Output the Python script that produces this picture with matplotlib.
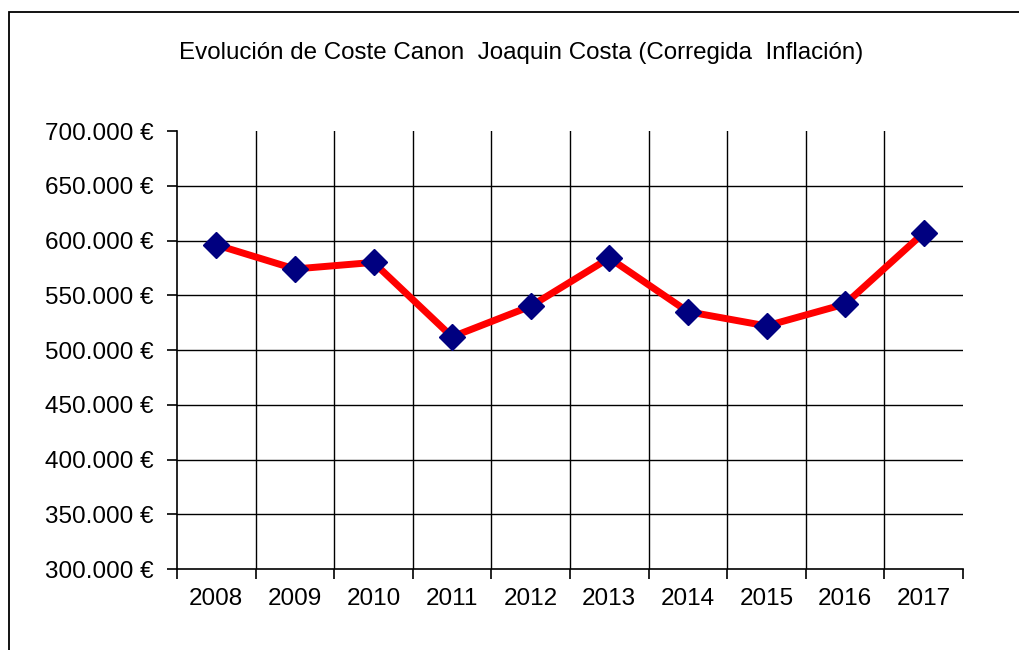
import matplotlib
matplotlib.use("Agg")
import matplotlib.pyplot as plt
from matplotlib.patches import Rectangle

# Data
years = ["2008", "2009", "2010", "2011", "2012", "2013", "2014", "2015", "2016", "2017"]
coste = [596000, 574000, 580000, 512000, 540000, 584000, 535000, 522000, 542000, 607000]
y_ticks = [300000, 350000, 400000, 450000, 500000, 550000, 600000, 650000, 700000]
y_labels = ["300.000 €", "350.000 €", "400.000 €", "450.000 €", "500.000 €",
            "550.000 €", "600.000 €", "650.000 €", "700.000 €"]
title = "Evolución de Coste Canon  Joaquin Costa (Corregida  Inflación)"

plt.rcParams['font.family'] = ['Liberation Sans', 'DejaVu Sans']

# Figure setup
fig = plt.figure(figsize=(10.19, 6.5), dpi=100)
ax = fig.add_axes([177/1019, 1-569/650, (963-177)/1019, (569-131)/650])

# outer frame (only left and top visible in the crop)
fig.patches.append(Rectangle((9/1019, -0.1), 1.2, 1.1 - 12/650,
                             transform=fig.transFigure, fill=False,
                             edgecolor="black", lw=1.3))

x = list(range(len(years)))
ax.plot(x, coste, color="#ff0000", lw=5, zorder=3, solid_capstyle="round")
ax.plot(x, coste, ls="none", marker="D", ms=13, color="#000080", zorder=4)

ax.set_xlim(-0.5, len(years) - 0.5)
ax.set_ylim(300000, 700000)

# gridlines
for v in y_ticks[1:-1]:
    ax.axhline(v, color="black", lw=1.0, zorder=1)
for b in range(1, len(years)):
    ax.axvline(b - 0.5, color="black", lw=1.0, zorder=1)

ax.set_yticks(y_ticks)
ax.set_yticklabels(y_labels, fontsize=17.5)
ax.set_xticks([i - 0.5 for i in range(len(years) + 1)])
ax.set_xticklabels([])
ax.set_xticks(x, minor=True)
ax.set_xticklabels(years, minor=True, fontsize=17.5)
ax.tick_params(axis="x", which="minor", length=0, pad=14)
ax.tick_params(axis="x", which="major", length=7, width=1.2, direction="out")
ax.tick_params(axis="y", length=7, width=1.2, direction="out", pad=10)

for s in ["top", "right"]:
    ax.spines[s].set_visible(False)
for s in ["left", "bottom"]:
    ax.spines[s].set_linewidth(1.2)

fig.text(521/1019, 1 - 53/650, title, ha="center", va="center", fontsize=17.4)

fig.savefig("out.png", dpi=100, facecolor="white")
